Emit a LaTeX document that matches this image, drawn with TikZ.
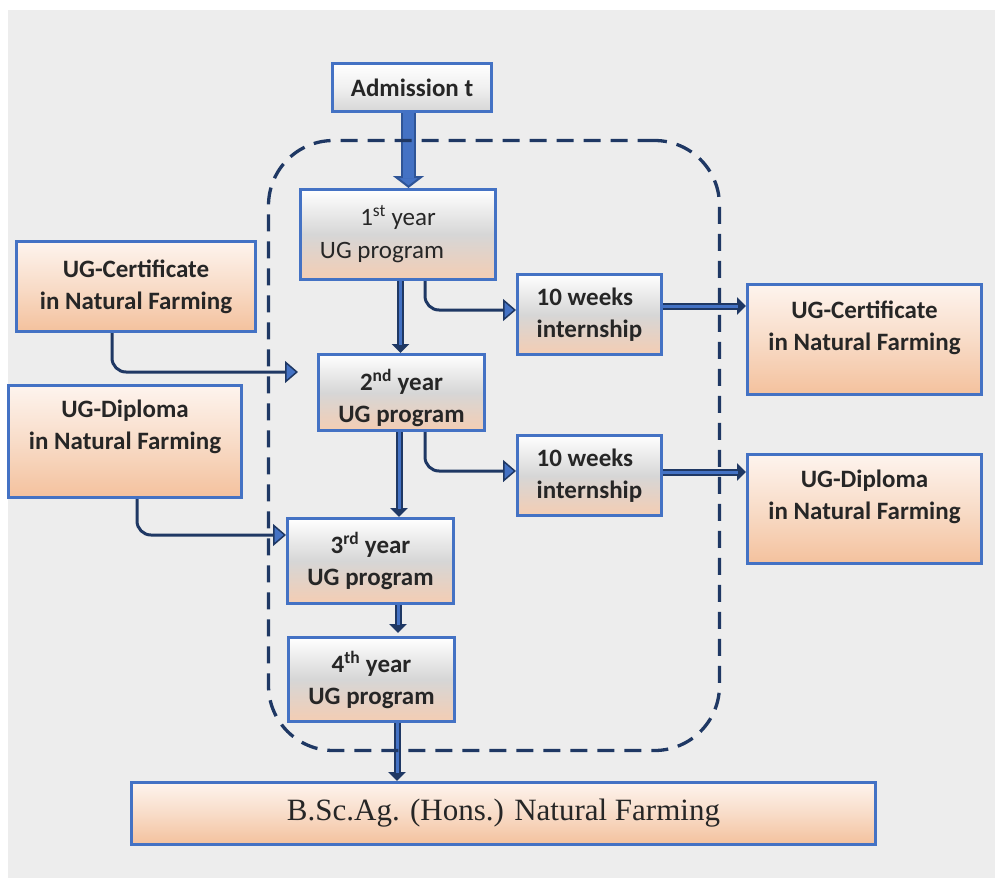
\documentclass[tikz,border=0pt]{standalone}
\usepackage{fontspec}
\setmainfont{Carlito}
\newfontfamily\timesf{Liberation Serif}
\usetikzlibrary{arrows.meta,calc}
\definecolor{bblue}{HTML}{4472C4}
\definecolor{navy}{HTML}{1F3864}
\definecolor{navyb}{HTML}{2F5597}
\definecolor{bg}{HTML}{EDEDED}
\definecolor{gmid}{HTML}{D6D6D6}
\definecolor{pbot}{HTML}{F4CDB3}
\definecolor{ptop}{HTML}{FEF4EE}
\definecolor{pmid}{HTML}{F8DCC8}
\definecolor{pdeep}{HTML}{F4C19D}
\definecolor{txt}{HTML}{262626}
\tikzset{
  box/.style={draw=bblue, line width=3pt, inner sep=0pt, align=center, text=txt,
    font=\fontsize{25}{32}\selectfont\bfseries},
  gbox/.style={box, top color=white, bottom color=pbot, middle color=gmid},
  abox/.style={box, top color=white, bottom color=gmid, middle color=gray!12},
  pbox/.style={box, top color=ptop, bottom color=pdeep, middle color=pmid},
  lbl/.style={inner sep=0pt, align=center, text=txt, font=\fontsize{25}{32}\selectfont\bfseries},
  dblo/.style={draw=navy, line width=7pt, -{Triangle[length=9pt,width=17pt]}},
  dbli/.style={draw=bblue, line width=3pt, shorten >=8pt},
  blko/.style={draw=navyb, line width=15pt, -{Triangle[length=12pt,width=31pt,fill=bblue,line width=2pt]}},
  blki/.style={draw=bblue, line width=11pt, shorten >=10pt},
  conn/.style={draw=navy, line width=3pt, rounded corners=14pt,
    -{Triangle[length=13pt,width=22pt,fill=bblue,line width=1.5pt]}},
  frame/.style={draw=navy, line width=3.3pt, dash pattern=on 17pt off 10pt, rounded corners=65pt, inner sep=0pt}
}
\begin{document}
\begin{tikzpicture}[x=1pt,y=-1pt]
\useasboundingbox (0,0) rectangle (995,878);
\fill[bg] (8,10) rectangle (995,878);

% boxes
\node[abox, minimum width=159pt, minimum height=48pt] (adm) at (412,87.5) {Admission t};
\node[gbox, minimum width=195pt, minimum height=90pt, font=\fontsize{25}{33}\selectfont] (y1) at (398,234.5)
  {1\textsuperscript{st} year\\UG program\kern32pt};
\node[gbox, minimum width=144pt, minimum height=80pt, align=left] (int1) at (589.5,314.5) {10 weeks\\internship};
\node[gbox, minimum width=144pt, minimum height=80pt, align=left] (int2) at (589.5,475.5) {10 weeks\\internship};
\node[pbox, minimum width=239pt, minimum height=90pt] (lcert) at (136,286.5) {UG-Certificate\\in Natural Farming};
\node[pbox, minimum width=233pt, minimum height=112pt] (ldip) at (125,441.5) {};
\node[lbl] (ldipt) at (125,427) {UG-Diploma\\in Natural Farming};
\node[gbox, minimum width=166pt, minimum height=76pt] (y2) at (401.5,392.5) {};
\node[lbl] (y2t) at (401.5,398) {2\textsuperscript{nd} year\\UG program};
\node[gbox, minimum width=166pt, minimum height=85pt] (y3) at (370.5,561) {3\textsuperscript{rd} year\\UG program};
\node[gbox, minimum width=166pt, minimum height=84pt] (y4) at (371.5,679.5) {4\textsuperscript{th} year\\UG program};
\node[pbox, minimum width=234pt, minimum height=110pt] (rcert) at (864.5,339.5) {};
\node[lbl] (rcertt) at (864.5,327.5) {UG-Certificate\\in Natural Farming};
\node[pbox, minimum width=234pt, minimum height=109pt] (rdip) at (864.5,509) {};
\node[lbl] (rdipt) at (864.5,496.5) {UG-Diploma\\in Natural Farming};
\node[pbox, minimum width=744pt, minimum height=62pt, font=\timesf\fontsize{31}{36}\selectfont] (bsc) at (503.5,813.5)
  {B.Sc.Ag. (Hons.) Natural Farming};

% block arrow
\draw[blko] ([xshift=-3.5pt]adm.south) -- ([xshift=10.5pt]y1.north);
\draw[blki] ([xshift=-3.5pt]adm.south) -- ([xshift=10.5pt]y1.north);

% double arrows
\draw[dblo] ([xshift=2.5pt]y1.south) -- ([xshift=-1pt]y2.north);
\draw[dbli] ([xshift=2.5pt]y1.south) -- ([xshift=-1pt]y2.north);
\draw[dblo] ([xshift=-2.5pt]y2.south) -- ([xshift=28.5pt]y3.north);
\draw[dbli] ([xshift=-2.5pt]y2.south) -- ([xshift=28.5pt]y3.north);
\draw[dblo] ([xshift=27.5pt]y3.south) -- ([xshift=26.5pt,yshift=3pt]y4.north);
\draw[dbli] ([xshift=27.5pt]y3.south) -- ([xshift=26.5pt,yshift=3pt]y4.north);
\draw[dblo] ([xshift=25.5pt]y4.south) -- ([xshift=-106.5pt]bsc.north);
\draw[dbli] ([xshift=25.5pt]y4.south) -- ([xshift=-106.5pt]bsc.north);
\draw[dblo] ([yshift=8.5pt]int1.east) -- ([yshift=33.5pt]rcert.west);
\draw[dbli] ([yshift=8.5pt]int1.east) -- ([yshift=33.5pt]rcert.west);
\draw[dblo] ([yshift=3.5pt]int2.east) -- ([yshift=37pt]rdip.west);
\draw[dbli] ([yshift=3.5pt]int2.east) -- ([yshift=37pt]rdip.west);

% thin connectors
\draw[conn] ([xshift=27pt]y1.south) |- ([yshift=4.5pt]int1.west);
\draw[conn] ([xshift=23.5pt]y2.south) |- ([yshift=4.5pt]int2.west);
\draw[conn, shorten >=19pt] ([xshift=-24pt]lcert.south) |- ([yshift=20.5pt]y2.west);
\draw[conn] ([xshift=12pt]ldip.south) |- ([yshift=26pt]y3.west);

% dashed frame
\node[frame, minimum width=451pt, minimum height=610pt] (fr) at (494,445.5) {};
\end{tikzpicture}
\end{document}
